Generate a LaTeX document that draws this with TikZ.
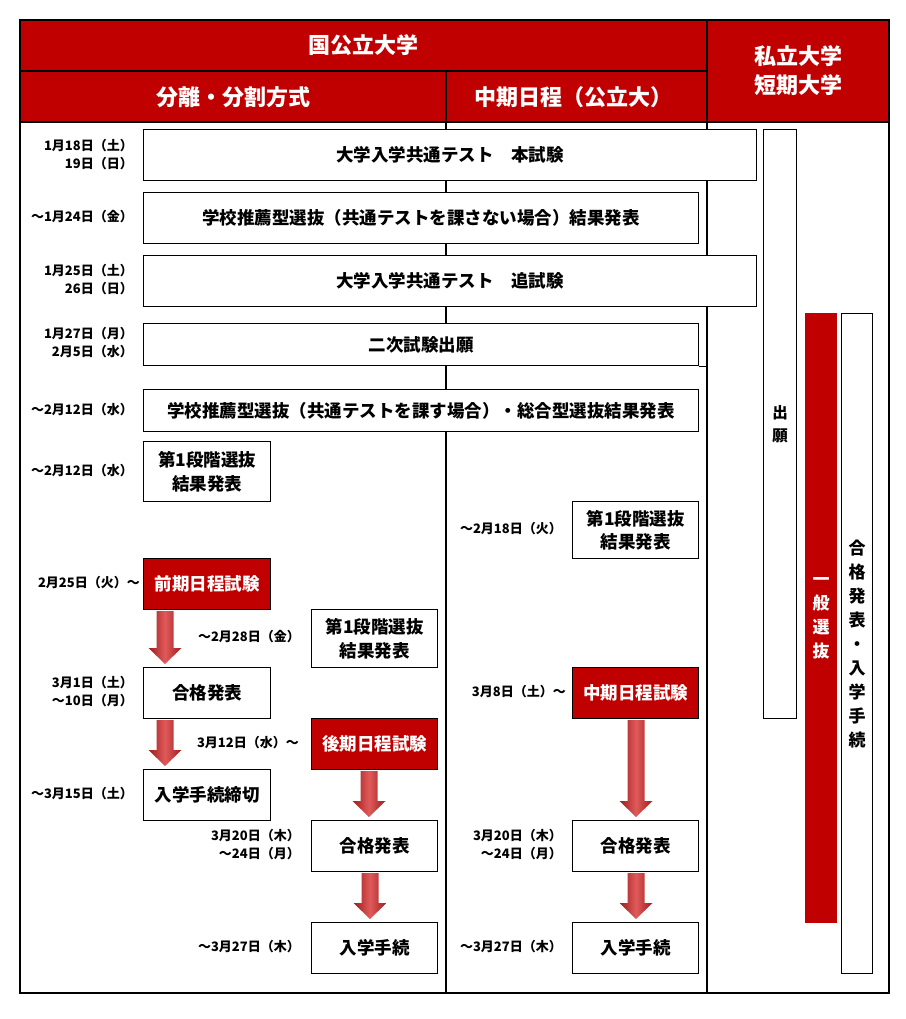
\documentclass[tikz,border=0pt]{standalone}
\usepackage{fontspec}
\setmainfont{Noto Sans CJK JP}
\usetikzlibrary{calc}
\definecolor{hred}{HTML}{C00000}
\definecolor{adark}{HTML}{9E1C1C}
\definecolor{alight}{HTML}{E05A5A}
\tikzset{
  frameline/.style={line width=1.2pt},
  box/.style={draw, line width=1.2pt, fill=white, inner sep=0pt, anchor=north west, align=center,
    font=\bfseries\fontsize{17.5}{23.5}\selectfont},
  redbox/.style={box, fill=hred, text=white},
  datelbl/.style={anchor=east, align=right, inner sep=0pt, font=\bfseries\fontsize{13}{18}\selectfont},
  headtxt/.style={text=white, align=center, inner sep=0pt, font=\bfseries\fontsize{22}{29}\selectfont},
  vtext/.style={align=center, inner sep=0pt, font=\bfseries\fontsize{17}{24}\selectfont},
  bigarr/.style={left color=adark, right color=adark, middle color=alight},
}
% \bx[style]{name}{x1}{y1}{x2}{y2}{text}
\newcommand\bx[7][box]{\node[#1, minimum width={(#5)-(#3)}, minimum height={(#6)-(#4)}] (#2) at (#3,#4) {#7};}
% \bigarrow{x}{from}{to}
\newcommand\bigarrow[3]{%
  \path[bigarr] let \p1=(#1,0 |- #2.south), \p2=(#1,0 |- #3.north) in
    (\x1-8.5pt,\y1-1pt) -- (\x1+8.5pt,\y1-1pt) -- (\x1+8.5pt,\y2+19pt) -- (\x1+16.5pt,\y2+19pt)
    -- (\x1,\y2+3pt) -- (\x1-16.5pt,\y2+19pt) -- (\x1-8.5pt,\y2+19pt) -- cycle;}
\begin{document}
\begin{tikzpicture}[x=1pt, y=-1pt]
\useasboundingbox (0,0) rectangle (905,1019);
% header band
\fill[hred] (20,20) rectangle (889,122);
% grid lines
\draw[frameline] (20,71) -- (707,71);
\draw[frameline] (20,122) -- (889,122);
\draw[frameline] (446,71) -- (446,993);
\draw[frameline] (707,20) -- (707,993);
\draw[frameline] (20,20) rectangle (889,993);
% header texts
\node[headtxt] (h1) at (363.5,45.5) {国公立大学};
\node[headtxt] (h2) at (233,97) {分離・分割方式};
\node[headtxt] (h3) at (573,97) {中期日程（公立大）};
\node[headtxt] (h4) at (798,71) {私立大学\\短期大学};
% boxes
\bx{honshiken}{143}{129}{756}{180}{大学入学共通テスト　本試験}
\bx{suisenA}{143}{192}{698}{243}{学校推薦型選抜（共通テストを課さない場合）結果発表}
\bx{tsuishiken}{143}{255}{756}{306}{大学入学共通テスト　追試験}
\bx{niji}{143}{323}{698}{365}{二次試験出願}
\draw[frameline] (niji.south east) -- (niji.south east -| 707,0);
\bx{suisenB}{143}{389}{698}{431}{学校推薦型選抜（共通テストを課す場合）・総合型選抜結果発表}
\bx{danA}{143}{441}{270}{501}{第1段階選抜\\結果発表}
\bx{danB}{572}{501}{698}{558}{第1段階選抜\\結果発表}
\bx[redbox]{zenki}{143}{558}{270}{609}{前期日程試験}
\bx{danC}{311}{609}{437}{667}{第1段階選抜\\結果発表}
\bx{goukakuA}{143}{667}{270}{718}{合格発表}
\bx[redbox]{chuki}{572}{667}{698}{718}{中期日程試験}
\bx[redbox]{kouki}{311}{718}{437}{769}{後期日程試験}
\bx{shimekiri}{143}{769}{270}{820}{入学手続締切}
\bx{goukakuB}{311}{820}{437}{871}{合格発表}
\bx{goukakuC}{572}{820}{698}{871}{合格発表}
\bx{tetsuB}{311}{922}{437}{973}{入学手続}
\bx{tetsuC}{572}{922}{698}{973}{入学手続}
% right column
\bx{shutsugan}{763}{129}{796}{718}{}
\node[vtext, font=\bfseries\fontsize{15.5}{23}\selectfont] (shutsuganT) at (shutsugan.center) {出\\願};
\bx[redbox, draw=hred]{ippan}{805}{313}{836}{922}{}
\node[vtext, text=white] (ippanT) at (ippan.center) {一\\般\\選\\抜};
\bx{goutetsu}{841}{313}{872}{973}{}
\node[vtext] (goutetsuT) at (goutetsu.center) {合\\格\\発\\表\\・\\入\\学\\手\\続};
% arrows
\bigarrow{165}{zenki}{goukakuA}
\bigarrow{165}{goukakuA}{shimekiri}
\bigarrow{369}{kouki}{goukakuB}
\bigarrow{370}{goukakuB}{tetsuB}
\bigarrow{636}{chuki}{goukakuC}
\bigarrow{636}{goukakuC}{tetsuC}
% date labels
\node[datelbl] (d1) at (133,155) {1月18日（土）\\19日（日）};
\node[datelbl] (d2) at (133,217) {～1月24日（金）};
\node[datelbl] (d3) at (133,280) {1月25日（土）\\26日（日）};
\node[datelbl] (d4) at (133,343) {1月27日（月）\\2月5日（水）};
\node[datelbl] (d5) at (133,410) {～2月12日（水）};
\node[datelbl] (d6) at (133,471) {～2月12日（水）};
\node[datelbl] (d7) at (562,529) {～2月18日（火）};
\node[datelbl] (d8) at (140,583) {2月25日（火）～};
\node[datelbl] (d9) at (300,637) {～2月28日（金）};
\node[datelbl] (d10) at (133,692) {3月1日（土）\\～10日（月）};
\node[datelbl] (d11) at (299,743) {3月12日（水）～};
\node[datelbl] (d12) at (133,794) {～3月15日（土）};
\node[datelbl] (d13) at (300,845) {3月20日（木）\\～24日（月）};
\node[datelbl] (d14) at (300,947) {～3月27日（木）};
\node[datelbl] (d15) at (566,692) {3月8日（土）～};
\node[datelbl] (d16) at (562,845) {3月20日（木）\\～24日（月）};
\node[datelbl] (d17) at (562,947) {～3月27日（木）};
\end{tikzpicture}
\end{document}
